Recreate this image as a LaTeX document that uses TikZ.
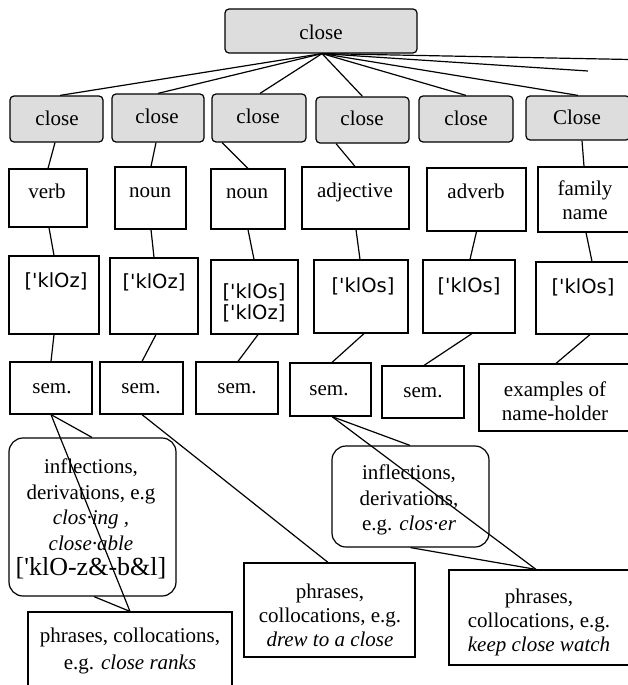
\documentclass[tikz,border=0pt]{standalone}
\usepackage{fontspec}
\setmainfont{Liberation Serif}
\newfontfamily\ipafont{DejaVu Sans}
\definecolor{boxgray}{RGB}{221,221,221}
\begin{document}
\begin{tikzpicture}[x=1pt,y=-1pt,
  bx/.style={draw, line width=1.2pt, inner sep=0pt},
  gbx/.style={bx, fill=boxgray, rounded corners=4pt},
  rbx/.style={bx, rounded corners=14pt},
  lbl/.style={font=\fontsize{21}{24}\selectfont, align=center, inner sep=0pt},
  lbla/.style={lbl, text height=14.5pt, text depth=4.5pt},
  ipa/.style={font=\ipafont\fontsize{19.5}{21}\selectfont, align=center, inner sep=0pt},
  ipaa/.style={ipa, text height=15.5pt, text depth=4.5pt},
  ln/.style={line width=1.2pt}]
\useasboundingbox (0,0) rectangle (628,685);
\clip (0,0) rectangle (628,685);
% ---------- level 0 and 1 ----------
\node[gbx, minimum width=192pt, minimum height=44pt] (top) at (321,31) {};
\node[lbla] (topt) at (321,35) {close};
\node[gbx, minimum width=93pt, minimum height=46pt] (b1) at (56.5,119) {};
\node[gbx, minimum width=92pt, minimum height=48pt] (b2) at (158,118) {};
\node[gbx, minimum width=94pt, minimum height=48pt] (b3) at (259,118) {};
\node[gbx, minimum width=93pt, minimum height=46pt] (b4) at (362.5,120) {};
\node[gbx, minimum width=94pt, minimum height=46pt] (b5) at (466,119) {};
\node[gbx, minimum width=104pt, minimum height=44pt] (b6) at (578,118) {};
\node[lbla] (b1t) at (57,120) {close};
\node[lbla] (b2t) at (157,118) {close};
\node[lbla] (b3t) at (258,118) {close};
\node[lbla] (b4t) at (362,120) {close};
\node[lbla] (b5t) at (466,120) {close};
\node[lbla] (b6t) at (577,119) {Close};
% ---------- level 2 ----------
\node[bx, minimum width=78pt, minimum height=58pt] (verb) at (48,198) {};
\node[bx, minimum width=71pt, minimum height=62pt] (noun1) at (150.5,198) {};
\node[bx, minimum width=74pt, minimum height=60pt] (noun2) at (248,199) {};
\node[bx, minimum width=107pt, minimum height=62pt] (adj) at (355.5,198) {};
\node[bx, minimum width=99pt, minimum height=63pt] (adv) at (476.5,199.5) {};
\node[bx, minimum width=92pt, minimum height=65pt] (fam) at (584,199.5) {};
\node[lbla] (verbt) at (47,193) {verb};
\node[lbla] (noun1t) at (150,192) {noun};
\node[lbla] (noun2t) at (247,193) {noun};
\node[lbla] (adjt) at (355,192) {adjective};
\node[lbla] (advt) at (476,193) {adverb};
\node[lbl] (famt) at (585,200) {family\\name};
% ---------- level 3 ----------
\node[bx, minimum width=90pt, minimum height=78pt] (p1) at (54,295) {};
\node[bx, minimum width=88pt, minimum height=76pt] (p2) at (154,296) {};
\node[bx, minimum width=87pt, minimum height=74pt] (p3) at (254.5,297) {};
\node[bx, minimum width=94pt, minimum height=73pt] (p4) at (361,296.5) {};
\node[bx, minimum width=92pt, minimum height=73pt] (p5) at (469,296.5) {};
\node[bx, minimum width=94pt, minimum height=72pt] (p6) at (583,298) {};
\node[ipaa] (p1t) at (56,282) {{[}\textquotesingle klOz]};
\node[ipaa] (p2t) at (154,283) {{[}\textquotesingle klOz]};
\node[ipa] (p3t) at (254,303) {{[}\textquotesingle klOs]\\{[}\textquotesingle klOz]};
\node[ipaa] (p4t) at (363,287) {{[}\textquotesingle klOs]};
\node[ipaa] (p5t) at (469,287) {{[}\textquotesingle klOs]};
\node[ipaa] (p6t) at (583,288) {{[}\textquotesingle klOs]};
% ---------- level 4 ----------
\node[bx, minimum width=82pt, minimum height=52pt] (s1) at (51,388) {};
\node[bx, minimum width=83pt, minimum height=52pt] (s2) at (141.5,388) {};
\node[bx, minimum width=82pt, minimum height=52pt] (s3) at (237,388) {};
\node[bx, minimum width=81pt, minimum height=53pt] (s4) at (330.5,389.5) {};
\node[bx, minimum width=82pt, minimum height=52pt] (s5) at (423,392) {};
\node[bx, minimum width=152pt, minimum height=67pt] (s6) at (555,397.5) {};
\node[lbla] (s1t) at (52,388) {sem.};
\node[lbla] (s2t) at (141,388) {sem.};
\node[lbla] (s3t) at (237,388) {sem.};
\node[lbla] (s4t) at (329,390) {sem.};
\node[lbla] (s5t) at (423,392) {sem.};
\node[lbl] (s6t) at (555,401) {examples of\\name-holder};
% ---------- level 5 ----------
\node[rbx, minimum width=167pt, minimum height=158pt] (r1) at (92.5,517) {};
\node[rbx, minimum width=157pt, minimum height=101pt] (r2) at (410.5,496.5) {};
\node[lbl, font=\fontsize{21}{25.5}\selectfont] (r1t) at (91,519)
  {inflections,\\derivations, e.g\\\textit{clos·ing ,}\\\textit{close·able}\\{\fontsize{26}{26}\selectfont{[}\textquotesingle klO-z\&-b\&l]}};
\node[lbl, font=\fontsize{21}{25.5}\selectfont] (r2t) at (409,500)
  {inflections,\\derivations,\\e.g. \textit{clos·er}};
\node[bx, minimum width=204pt, minimum height=88pt] (ph1) at (130,656) {};
\node[bx, minimum width=171pt, minimum height=94pt] (ph2) at (329.5,610) {};
\node[bx, minimum width=180pt, minimum height=95pt] (ph3) at (539,617.5) {};
\node[lbl, font=\fontsize{21}{27}\selectfont] (ph1t) at (130,651) {phrases, collocations,\\e.g. \textit{close ranks}};
\node[lbl] (ph2t) at (330,615) {phrases,\\collocations, e.g.\\\textit{drew to a close}};
\node[lbl] (ph3t) at (539,622) {phrases,\\collocations, e.g.\\\textit{keep close watch}};
% ---------- connectors ----------
\coordinate (fe1) at (588,71);
\coordinate (fe2) at (630,59.5);
\draw[ln] ([xshift=1pt]top.south) -- ([xshift=3.5pt]b1.north);
\draw[ln] ([xshift=1pt]top.south) -- (b2.north);
\draw[ln] ([xshift=1pt]top.south) -- ([xshift=1pt]b3.north);
\draw[ln] ([xshift=1pt]top.south) -- (b4.north);
\draw[ln] ([xshift=1pt]top.south) -- (b5.north);
\draw[ln] ([xshift=1pt]top.south) -- (b6.north);
\draw[ln] ([xshift=1pt]top.south) -- (fe1);
\draw[ln] ([xshift=1pt]top.south) -- (fe2);
\draw[ln] ([xshift=-1.5pt]b1.south) -- (verb.north);
\draw[ln] ([xshift=-2pt]b2.south) -- ([xshift=0.5pt]noun1.north);
\draw[ln] ([xshift=-37pt]b3.south) -- (noun2.north);
\draw[ln] ([xshift=-26.5pt]b4.south) -- ([xshift=-0.5pt]adj.north);
\draw[ln] ([xshift=4pt]b6.south) -- (fam.north);
\draw[ln] ([xshift=1pt]verb.south) -- (p1.north);
\draw[ln] ([xshift=0.5pt]noun1.south) -- (p2.north);
\draw[ln] (noun2.south) -- ([xshift=-0.5pt]p3.north);
\draw[ln] ([xshift=0.5pt]adj.south) -- ([xshift=-1pt]p4.north);
\draw[ln] (adv.south) -- ([xshift=1pt]p5.north);
\draw[ln] ([xshift=2pt]fam.south) -- ([xshift=9pt]p6.north);
\draw[ln] (p1.south) -- (s1.north);
\draw[ln] ([xshift=2pt]p2.south) -- ([xshift=0.5pt]s2.north);
\draw[ln] ([xshift=3.5pt]p3.south) -- ([xshift=1pt]s3.north);
\draw[ln] ([xshift=3pt]p4.south) -- ([xshift=1.5pt]s4.north);
\draw[ln] ([xshift=3pt]p5.south) -- ([xshift=1pt]s5.north);
\draw[ln] ([xshift=7pt]p6.south) -- ([xshift=1pt]s6.north);
\draw[ln] (s1.south) -- ([xshift=-0.5pt]r1.north);
\draw[ln] (s1.south) -- (ph1.north);
\draw[ln] ([xshift=1.5pt]r1.south) -- (ph1.north);
\draw[ln] ([xshift=0.5pt]s2.south) -- ([xshift=-1.5pt]ph2.north);
\draw[ln] ([xshift=1.5pt]s4.south) -- ([xshift=-0.5pt]r2.north);
\draw[ln] ([xshift=1.5pt]s4.south) -- ([xshift=-3pt]ph3.north);
\draw[ln] (r2.south) -- ([xshift=-3pt]ph3.north);
\end{tikzpicture}
\end{document}
